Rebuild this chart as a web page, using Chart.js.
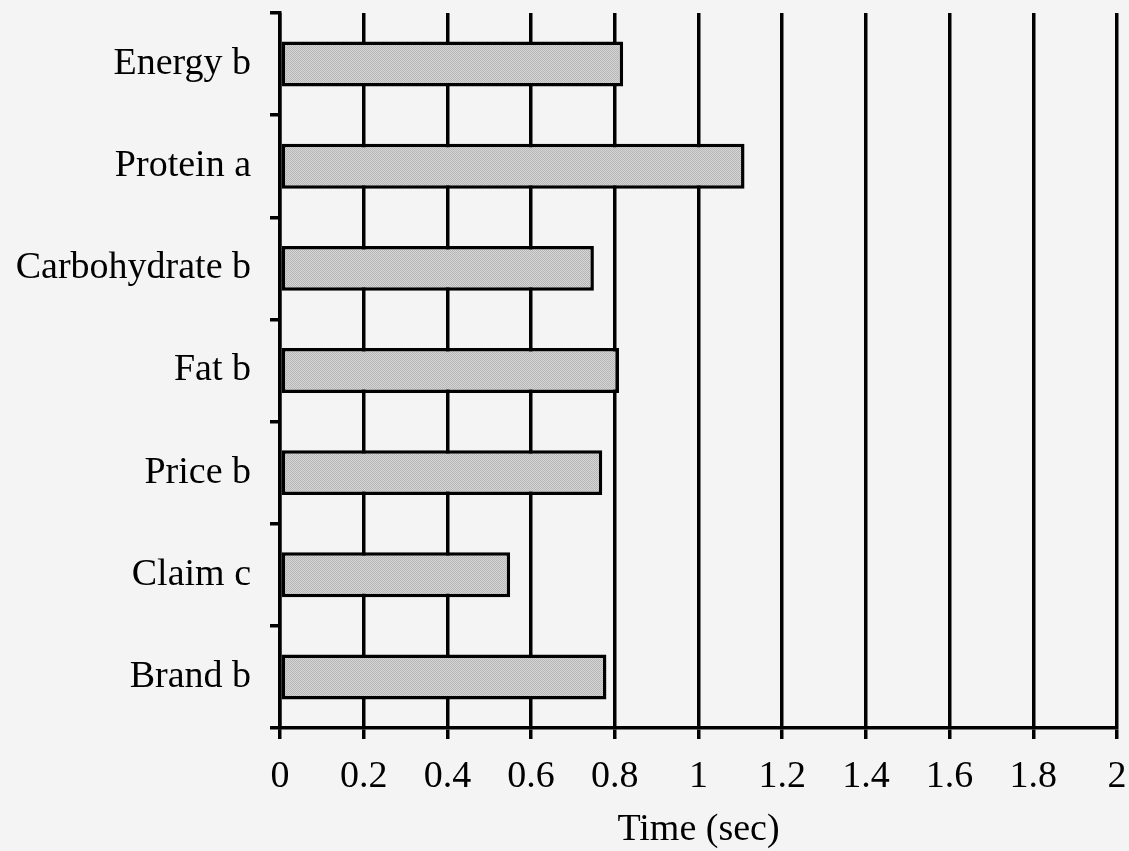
<!DOCTYPE html>
<html>
<head>
<meta charset="utf-8">
<script src="https://cdn.jsdelivr.net/npm/chart.js@4/dist/chart.umd.min.js"></script>
<style>
  html, body { margin: 0; padding: 0; background: #f4f4f4; }
  #wrap { width: 1129px; height: 851px; position: relative; }
</style>
</head>
<body>
<div id="wrap"><canvas id="c" width="1129" height="851"></canvas></div>
<script>
const categories = ["Energy b", "Protein a", "Carbohydrate b", "Fat b", "Price b", "Claim c", "Brand b"];
const timeValues = [0.82, 1.11, 0.75, 0.81, 0.77, 0.55, 0.78];
const xTickValues = [0, 0.2, 0.4, 0.6, 0.8, 1, 1.2, 1.4, 1.6, 1.8, 2];
const xAxisTitle = "Time (sec)";

const FONT = "'Liberation Serif', 'Times New Roman', serif";

function makeDither() {
  const p = document.createElement('canvas');
  p.width = 2; p.height = 2;
  const g = p.getContext('2d');
  g.fillStyle = '#d6d6d6'; g.fillRect(0, 0, 2, 2);
  g.fillStyle = '#b6b6b6'; g.fillRect(0, 0, 1, 1); g.fillRect(1, 1, 1, 1);
  return g.createPattern(p, 'repeat');
}

const bgPlugin = {
  id: 'bg',
  beforeDraw(chart) {
    const ctx = chart.ctx;
    ctx.save();
    ctx.fillStyle = '#f4f4f4';
    ctx.fillRect(0, 0, chart.width, chart.height);
    ctx.restore();
  }
};

new Chart(document.getElementById('c'), {
  type: 'bar',
  data: {
    labels: categories,
    datasets: [{
      data: timeValues,
      backgroundColor: makeDither(),
      borderColor: '#000',
      borderWidth: 3.5,
      borderSkipped: false,
      categoryPercentage: 1,
      barPercentage: 0.44
    }]
  },
  options: {
    indexAxis: 'y',
    responsive: false,
    animation: false,
    devicePixelRatio: 1,
    layout: { padding: { top: 13, right: 12, left: 0, bottom: 0 } },
    plugins: { legend: { display: false }, tooltip: { enabled: false } },
    scales: {
      x: {
        type: 'linear',
        min: 0, max: 2,
        afterBuildTicks(scale) { scale.ticks = xTickValues.map(v => ({ value: v })); },
        afterFit(scale) { scale.height = 123; scale.paddingLeft = 0; scale.paddingRight = 0; },
        grid: {
          display: true, drawOnChartArea: true, drawTicks: true,
          color: '#000', lineWidth: 3.5, tickLength: 11, tickColor: '#000'
        },
        border: { display: true, color: '#000', width: 3.5 },
        ticks: {
          color: '#000', padding: 15, maxRotation: 0, autoSkip: false,
          font: { family: FONT, size: 38 },
          callback: (v) => String(v)
        },
        title: {
          display: true, text: xAxisTitle, color: '#000',
          font: { family: FONT, size: 38 },
          padding: { top: 0, bottom: -2 }
        }
      },
      y: {
        afterFit(scale) { scale.width = 280; scale.paddingTop = 0; scale.paddingBottom = 0; },
        grid: {
          display: true, drawOnChartArea: false, drawTicks: true, offset: true,
          color: '#000', lineWidth: 3.5, tickLength: 10, tickColor: '#000'
        },
        border: { display: true, color: '#000', width: 3.5 },
        ticks: {
          color: '#000', padding: 19,
          font: { family: FONT, size: 38 }
        }
      }
    }
  },
  plugins: [bgPlugin]
});
</script>
</body>
</html>
